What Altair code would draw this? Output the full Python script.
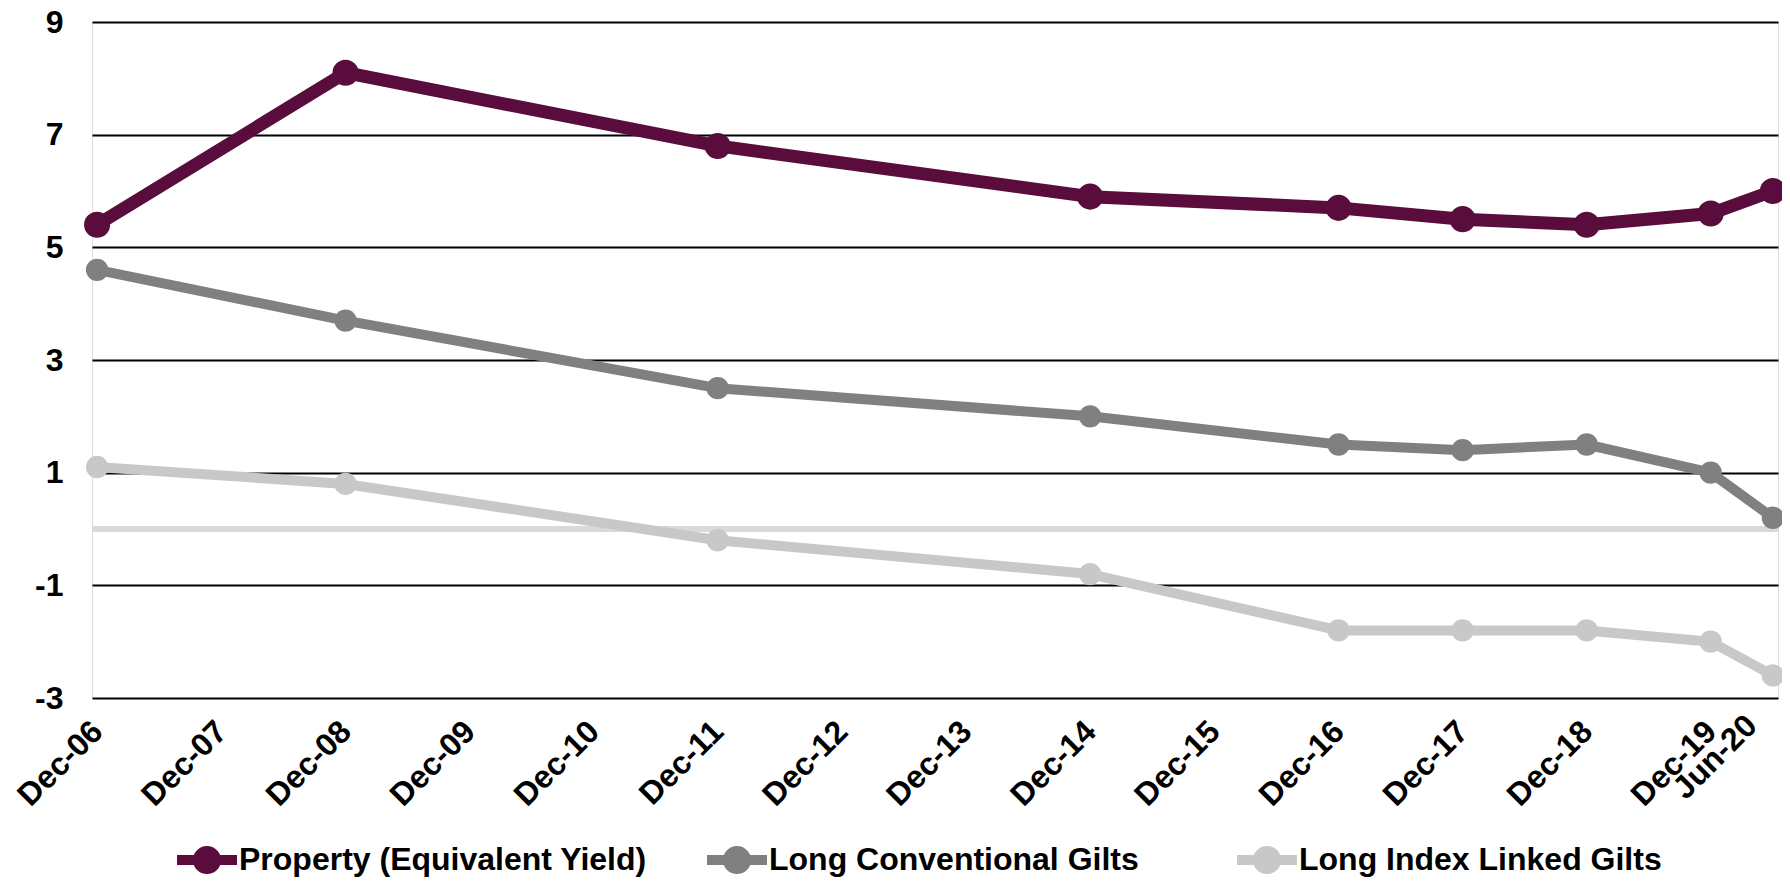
import altair as alt
import pandas as pd

dates = ["2006-12-01", "2008-12-01", "2011-12-01", "2014-12-01", "2016-12-01",
         "2017-12-01", "2018-12-01", "2019-12-01", "2020-06-01"]
series_names = ["Property (Equivalent Yield)", "Long Conventional Gilts", "Long Index Linked Gilts"]
property_yield = [5.4, 8.1, 6.8, 5.9, 5.7, 5.5, 5.4, 5.6, 6.0]
long_conv = [4.6, 3.7, 2.5, 2.0, 1.5, 1.4, 1.5, 1.0, 0.2]
long_index = [1.1, 0.8, -0.2, -0.8, -1.8, -1.8, -1.8, -2.0, -2.6]
colors = ["#5A0C3C", "#808080", "#C8C8C8"]
tick_years = list(range(2006, 2020))
last_label = {"date": "2020-06-01", "text": "Jun-20"}
y_ticks = [-3, -1, 1, 3, 5, 7, 9]

rows = []
for name, vals in zip(series_names, [property_yield, long_conv, long_index]):
    for d, v in zip(dates, vals):
        rows.append({"date": d, "series": name, "value": v})
df = pd.DataFrame(rows)

FONT = "Liberation Sans"
FS = 32
W, H = 1686, 676
x_values = [alt.DateTime(year=y, month=12, date=1, utc=True) for y in tick_years]
x_scale = alt.Scale(domain=[alt.DateTime(year=2006, month=11, date=16, utc=True),
                            alt.DateTime(year=2020, month=6, date=16, utc=True)])
y_scale = alt.Scale(domain=[-3, 9], nice=False, zero=False)
color_scale = alt.Scale(domain=series_names, range=colors)

x_enc = alt.X("date:T", scale=x_scale,
              axis=alt.Axis(values=x_values, labelExpr="utcFormat(datum.value, '%b-%y')",
                            labelAngle=-45, labelAlign="right", labelBaseline="middle",
                            labelOverlap=False, labelPadding=28, ticks=False, domain=False,
                            grid=False, title=None, labelFont=FONT, labelFontSize=FS,
                            labelFontWeight="bold", labelColor="black"))
y_enc = alt.Y("value:Q", scale=y_scale,
              axis=alt.Axis(values=y_ticks, labelExpr="'' + datum.value", grid=True,
                            gridColor="black", gridWidth=2,
                            gridOpacity=1, domain=False, ticks=False, title=None,
                            labelFont=FONT, labelFontSize=FS, labelFontWeight="bold",
                            labelColor="black", labelPadding=29))

legend_path = ("M-1,-0.17H1V0.17H-1Z "
               "M-0.47,0A0.47,0.47 0 1,1 0.47,0A0.47,0.47 0 1,1 -0.47,0Z")

zero_rule = alt.Chart(pd.DataFrame({"z": [0]})).mark_rule(
    color="#D9D9D9", strokeWidth=6).encode(y=alt.Y("z:Q", scale=y_scale))

is_prop = f"datum.series == '{series_names[0]}'"

lines = alt.Chart(df).mark_line(strokeJoin="round").encode(
    x=x_enc, y=y_enc,
    color=alt.Color("series:N", scale=color_scale,
                    legend=alt.Legend(title=None, orient="none", legendX=85, legendY=808,
                                      direction="horizontal", symbolType=legend_path,
                                      symbolSize=3600, symbolStrokeWidth=0,
                                      symbolFillColor="#5A0C3C",
                                      labelFont=FONT, labelFontSize=FS, labelFontWeight="bold",
                                      labelColor="black", labelOffset=2, columns=3,
                                      gridAlign="all", columnPadding=60,
                                      padding=0, labelLimit=1000)),
    strokeWidth=alt.condition(is_prop, alt.value(13), alt.value(10)),
)

points = alt.Chart(df).mark_circle(opacity=1).encode(
    x=x_enc, y=y_enc,
    color=alt.Color("series:N", scale=color_scale, legend=None),
    size=alt.condition(is_prop, alt.value(680), alt.value(500)),
)

jun_label = alt.Chart(pd.DataFrame([last_label])).mark_text(
    angle=315, align="right", baseline="middle", font=FONT, fontSize=FS,
    fontWeight="bold", color="black", dx=-31, dy=1).encode(
    x=alt.X("date:T", scale=x_scale), y=alt.value(H), text="text:N")

chart = alt.layer(zero_rule, lines, points, jun_label).properties(
    width=W, height=H,
    padding={"left": 84, "top": 14, "right": 4, "bottom": 183},
    autosize=alt.AutoSizeParams(type="none"),
).configure_view(stroke=None).configure(background="white")

chart.save("out.html", embed_options={"renderer": "svg", "actions": False})
